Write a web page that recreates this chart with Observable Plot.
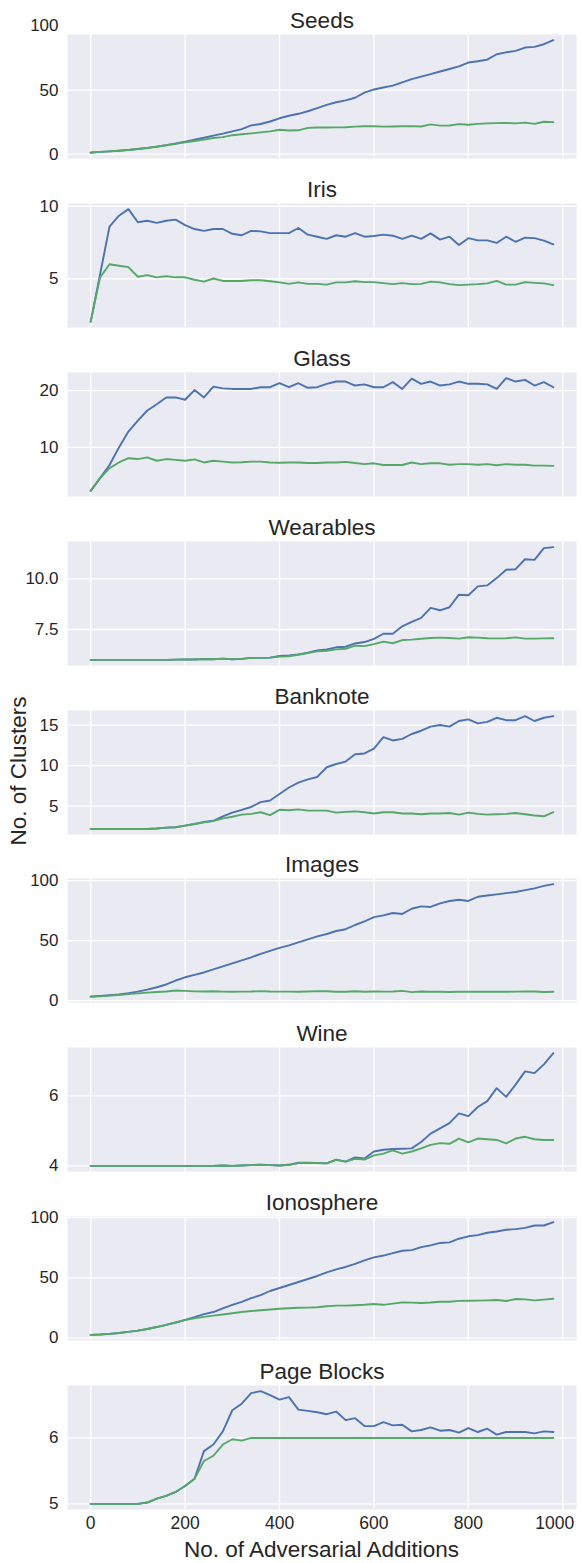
<!DOCTYPE html>
<html>
<head>
<meta charset="utf-8">
<script src="https://cdn.jsdelivr.net/npm/d3@7"></script>
<script src="https://cdn.jsdelivr.net/npm/@observablehq/plot@0.6"></script>
<style>
  html, body { margin: 0; padding: 0; background: #ffffff; }
  #fig { position: relative; width: 581px; height: 1563px; background: #ffffff;
         font-family: "Liberation Sans", Arial, Helvetica, sans-serif; color: #262626; }
  #fig svg { position: absolute; left: 0; overflow: visible; }
  .axis-label { position: absolute; font-size: 22.5px; line-height: 1; white-space: nowrap; color: #262626; }
</style>
</head>
<body>
<div id="fig"></div>
<script>
// Number of adversarial points added (x axis), shared by every dataset
const additions = [0,20,40,60,80,100,120,140,160,180,200,220,240,260,280,300,320,340,360,380,
  400,420,440,460,480,500,520,540,560,580,600,620,640,660,680,700,720,740,760,780,
  800,820,840,860,880,900,920,940,960,980];
const xTicks = [0, 200, 400, 600, 800, 1000];

// Cluster counts per dataset: blue and green curves
const seedsBlue = [1.3,1.8,2.2,2.7,3.3,4.0,4.9,5.9,7.0,8.3, 9.8,11.3,12.8,14.5,16.0,17.8,19.5,22.5,23.5,25.5,
  28.0,30.0,31.5,33.5,36.0,38.5,40.5,42.0,44.0,48.0, 50.5,52.0,53.5,56.0,58.5,60.5,62.5,64.5,66.5,68.5,
  71.5,72.5,73.8,78.0,79.5,80.6,83.2,83.7,85.8,89.0];
const seedsGreen = [1.0,1.8,2.2,2.7,3.2,4.0,4.8,5.8,6.9,8.0, 9.3,10.3,11.3,12.6,13.3,14.8,15.5,16.2,17.0,17.8,
  19.0,18.5,18.6,20.5,20.8,20.8,20.9,21.0,21.5,21.8, 21.8,21.5,21.6,21.8,21.9,21.6,23.2,22.3,22.4,23.4,
  23.0,23.6,24.0,24.2,24.4,24.0,24.6,23.6,25.3,25.0];

const irisBlue = [2.03,5.3,8.6,9.35,9.8,8.9,9.0,8.85,9.0,9.08, 8.7,8.43,8.3,8.43,8.43,8.1,8.0,8.3,8.27,8.15,
  8.15,8.15,8.5,8.04,7.9,7.75,8.0,7.9,8.15,7.9, 7.95,8.04,7.97,7.75,7.97,7.75,8.13,7.7,7.9,7.33,
  7.8,7.65,7.65,7.47,7.9,7.55,7.83,7.8,7.63,7.37];
const irisGreen = [2.03,5.1,6.0,5.9,5.8,5.14,5.25,5.1,5.18,5.1, 5.1,4.93,4.8,5.02,4.85,4.85,4.85,4.9,4.9,4.83,
  4.75,4.65,4.75,4.65,4.65,4.6,4.75,4.75,4.83,4.77, 4.77,4.7,4.63,4.7,4.63,4.65,4.8,4.75,4.63,4.56,
  4.6,4.63,4.68,4.86,4.6,4.6,4.77,4.72,4.68,4.56];

const glassBlue = [2.35,4.6,6.9,10.0,12.8,14.7,16.5,17.6,18.8,18.8, 18.4,20.1,18.8,20.7,20.4,20.3,20.3,20.3,20.6,20.6,
  21.3,20.6,21.3,20.5,20.6,21.2,21.6,21.6,20.9,21.1, 20.6,20.6,21.5,20.3,22.1,21.2,21.6,20.9,21.1,21.6,
  21.2,21.2,21.1,20.3,22.2,21.6,21.9,20.9,21.5,20.6];
const glassGreen = [2.35,4.6,6.35,7.35,8.1,7.95,8.25,7.65,7.95,7.8, 7.65,7.9,7.35,7.65,7.5,7.35,7.4,7.5,7.5,7.35,
  7.3,7.35,7.35,7.25,7.25,7.35,7.35,7.45,7.25,7.05, 7.2,6.9,6.9,6.9,7.35,7.05,7.2,7.2,6.95,7.05,
  7.05,6.95,7.05,6.85,7.05,6.95,6.95,6.8,6.8,6.75];

const wearablesBlue = [6.0,6.0,6.0,6.0,6.0,6.0,6.0,6.0,6.0,6.01, 6.02,6.02,6.04,6.03,6.06,6.03,6.05,6.1,6.1,6.11,
  6.19,6.22,6.27,6.35,6.47,6.52,6.62,6.65,6.81,6.88, 7.04,7.29,7.29,7.66,7.88,8.07,8.57,8.45,8.6,9.22,
  9.19,9.63,9.68,10.04,10.45,10.48,10.97,10.94,11.52,11.57];
const wearablesGreen = [6.0,6.0,6.0,6.0,6.0,6.0,6.0,6.0,6.0,6.01, 6.02,6.02,6.04,6.03,6.06,6.03,6.05,6.1,6.1,6.11,
  6.16,6.18,6.25,6.33,6.42,6.45,6.52,6.55,6.7,6.68, 6.78,6.9,6.82,6.98,7.0,7.04,7.08,7.1,7.08,7.05,
  7.12,7.1,7.07,7.06,7.07,7.11,7.05,7.05,7.06,7.07];

const banknoteBlue = [2.2,2.2,2.2,2.2,2.2,2.2,2.2,2.25,2.35,2.4, 2.6,2.8,3.05,3.2,3.75,4.2,4.55,4.9,5.5,5.7,
  6.5,7.3,7.9,8.3,8.6,9.8,10.2,10.5,11.4,11.5, 12.1,13.5,13.1,13.3,13.9,14.3,14.8,15.0,14.8,15.5,
  15.7,15.2,15.4,15.9,15.6,15.6,16.1,15.5,15.9,16.1];
const banknoteGreen = [2.2,2.2,2.2,2.2,2.2,2.2,2.2,2.25,2.35,2.4, 2.6,2.8,3.0,3.15,3.5,3.7,3.95,4.05,4.25,3.9,
  4.55,4.5,4.6,4.45,4.45,4.45,4.2,4.3,4.35,4.25, 4.1,4.25,4.25,4.1,4.1,4.0,4.1,4.1,4.15,3.95,
  4.2,4.05,3.95,4.0,4.05,4.15,4.0,3.85,3.75,4.25];

const imagesBlue = [3.5,4.0,4.6,5.3,6.3,7.6,9.2,11.2,13.5,16.8, 19.5,21.5,23.5,26.0,28.5,31.0,33.5,36.0,39.0,41.5,
  44.0,46.0,48.5,51.0,53.5,55.5,58.0,59.5,63.0,66.0, 69.5,71.0,73.0,72.2,76.5,78.5,78.0,81.0,83.0,84.0,
  83.0,86.5,87.5,88.5,89.5,90.5,92.0,93.5,95.5,97.0];
const imagesGreen = [3.2,3.6,4.2,4.8,5.5,6.1,6.7,7.2,7.7,8.5, 8.2,7.8,7.7,7.9,7.6,7.5,7.6,7.7,8.0,7.7,
  7.6,7.6,7.4,7.7,8.0,7.9,7.5,7.4,7.9,7.4, 7.7,7.6,7.7,8.2,7.1,7.7,7.5,7.4,7.2,7.4,
  7.4,7.4,7.6,7.5,7.4,7.6,7.7,7.7,7.3,7.5];

const wineBlue = [4.0,4.0,4.0,4.0,4.0,4.0,4.0,4.0,4.0,4.0, 4.0,4.0,4.0,4.0,4.01,4.0,4.01,4.02,4.03,4.02,
  4.01,4.03,4.09,4.09,4.08,4.07,4.18,4.12,4.24,4.21, 4.41,4.46,4.48,4.49,4.5,4.68,4.92,5.07,5.22,5.5,
  5.42,5.68,5.85,6.22,5.97,6.32,6.7,6.65,6.9,7.22];
const wineGreen = [4.0,4.0,4.0,4.0,4.0,4.0,4.0,4.0,4.0,4.0, 4.0,4.0,4.0,4.0,4.01,4.0,4.01,4.02,4.03,4.02,
  4.01,4.03,4.08,4.08,4.08,4.07,4.17,4.12,4.2,4.18, 4.3,4.35,4.44,4.35,4.41,4.5,4.6,4.65,4.63,4.78,
  4.67,4.78,4.76,4.74,4.64,4.78,4.83,4.76,4.74,4.74];

const ionosphereBlue = [2.5,2.8,3.3,4.0,5.0,6.0,7.4,9.0,10.8,12.8, 15.0,17.2,19.8,21.5,24.5,27.5,30.0,33.0,35.5,39.0,
  41.5,44.0,46.5,49.0,51.5,54.5,57.0,59.0,61.5,64.5, 67.0,68.5,70.5,72.5,73.0,75.5,77.0,79.0,79.5,82.5,
  84.5,85.5,87.5,88.5,90.0,90.5,91.5,93.5,93.5,96.3];
const ionosphereGreen = [2.5,2.8,3.3,4.0,5.0,6.0,7.4,9.0,10.8,12.8, 14.8,16.3,17.5,18.5,19.5,20.5,21.5,22.3,23.0,23.6,
  24.2,24.7,25.0,25.2,25.5,26.3,26.8,26.8,27.2,27.5, 28.2,27.5,28.5,29.5,29.3,29.0,29.4,30.1,30.0,30.8,
  30.9,31.0,31.2,31.5,30.7,32.3,32.0,31.2,31.8,32.5];

const pageBlocksBlue = [5.0,5.0,5.0,5.0,5.0,5.0,5.02,5.08,5.12,5.18, 5.27,5.38,5.8,5.9,6.1,6.42,6.52,6.68,6.71,6.65,
  6.58,6.62,6.43,6.41,6.39,6.36,6.4,6.27,6.3,6.18, 6.18,6.24,6.19,6.2,6.1,6.12,6.16,6.11,6.12,6.08,
  6.15,6.09,6.14,6.05,6.09,6.09,6.09,6.07,6.1,6.09];
const pageBlocksGreen = [5.0,5.0,5.0,5.0,5.0,5.0,5.02,5.08,5.12,5.18, 5.27,5.38,5.65,5.73,5.9,5.98,5.96,6.0,6.0,6.0,
  6.0,6.0,6.0,6.0,6.0,6.0,6.0,6.0,6.0,6.0, 6.0,6.0,6.0,6.0,6.0,6.0,6.0,6.0,6.0,6.0,
  6.0,6.0,6.0,6.0,6.0,6.0,6.0,6.0,6.0,6.0];

// Panel titles and y tick values, in drawing order
const titles = ["Seeds", "Iris", "Glass", "Wearables", "Banknote", "Images", "Wine", "Ionosphere", "Page Blocks"];
const blueSeries = [seedsBlue, irisBlue, glassBlue, wearablesBlue, banknoteBlue, imagesBlue, wineBlue, ionosphereBlue, pageBlocksBlue];
const greenSeries = [seedsGreen, irisGreen, glassGreen, wearablesGreen, banknoteGreen, imagesGreen, wineGreen, ionosphereGreen, pageBlocksGreen];
const yTickSets = [[0, 50, 100], [5, 10], [10, 20], [7.5, 10], [5, 10, 15], [0, 50, 100], [4, 6], [0, 50, 100], [5, 6]];
const yTickFormats = [null, null, null, ".1f", null, null, null, null, null];

const BLUE = "#4C72B0", GREEN = "#55A868", PANEL = "#EAEAF2", INK = "#262626";
const FONT = "'Liberation Sans', Arial, Helvetica, sans-serif";
const plain = d => String(d);

const fig = document.getElementById("fig");
const frameTop0 = 34.3, step = 168.8, frameH = 124, mTop = 34;

titles.forEach((title, k) => {
  const last = k === titles.length - 1;
  const blue = blueSeries[k], green = greenSeries[k];
  const lo = Math.min(d3.min(blue), d3.min(green));
  const hi = Math.max(d3.max(blue), d3.max(green));
  const pad = (hi - lo) * 0.05;
  const domain = [lo - pad, hi + pad];
  const yTicks = yTickSets[k];
  const fmt = yTickFormats[k] ? d3.format(yTickFormats[k]) : plain;
  const mBottom = last ? 55 : 6;
  const xAxisOpts = {tickSize: 0, tickPadding: 7, fontSize: 17.5, label: null, fill: INK, tickFormat: plain};

  const chart = Plot.plot({
    width: 581,
    height: mTop + frameH + mBottom,
    marginLeft: 67,
    marginRight: 5,
    marginTop: mTop,
    marginBottom: mBottom,
    style: {fontFamily: FONT, fontSize: "17px", color: INK, background: "transparent"},
    x: {domain: [-49, 1029], axis: null},
    y: {domain},
    marks: [
      Plot.frame({fill: PANEL, stroke: null}),
      Plot.gridX(xTicks, {stroke: "#ffffff", strokeOpacity: 1, strokeWidth: 1.3}),
      Plot.gridY(yTicks.filter(t => t >= domain[0] && t <= domain[1]), {stroke: "#ffffff", strokeOpacity: 1, strokeWidth: 1.3}),
      Plot.axisY(yTicks, {tickSize: 0, tickPadding: 9, fontSize: 17, tickFormat: fmt, label: null, fill: INK}),
      // the widest label sits a little inward so it stays inside the figure
      last ? Plot.axisX(xTicks.slice(0, -1), xAxisOpts) : null,
      last ? Plot.axisX(xTicks.slice(-1), {...xAxisOpts, dx: -8}) : null,
      Plot.lineY(blue, {x: additions, stroke: BLUE, strokeWidth: 1.9}),
      Plot.lineY(green, {x: additions, stroke: GREEN, strokeWidth: 1.9}),
      Plot.text([title], {text: d => d, frameAnchor: "top", lineAnchor: "bottom", dy: -7, fontSize: 22.5, fill: INK})
    ]
  });
  chart.style.top = (frameTop0 + step * k - mTop) + "px";
  fig.appendChild(chart);
});

// Shared axis titles
const xLabel = document.createElement("div");
xLabel.className = "axis-label";
xLabel.textContent = "No. of Adversarial Additions";
xLabel.style.left = "321.5px";
xLabel.style.top = "1539px";
xLabel.style.transform = "translateX(-50%)";
fig.appendChild(xLabel);

const yLabel = document.createElement("div");
yLabel.className = "axis-label";
yLabel.textContent = "No. of Clusters";
yLabel.style.left = "19px";
yLabel.style.top = "771px";
yLabel.style.transform = "translate(-50%, -50%) rotate(-90deg)";
fig.appendChild(yLabel);
</script>
</body>
</html>
